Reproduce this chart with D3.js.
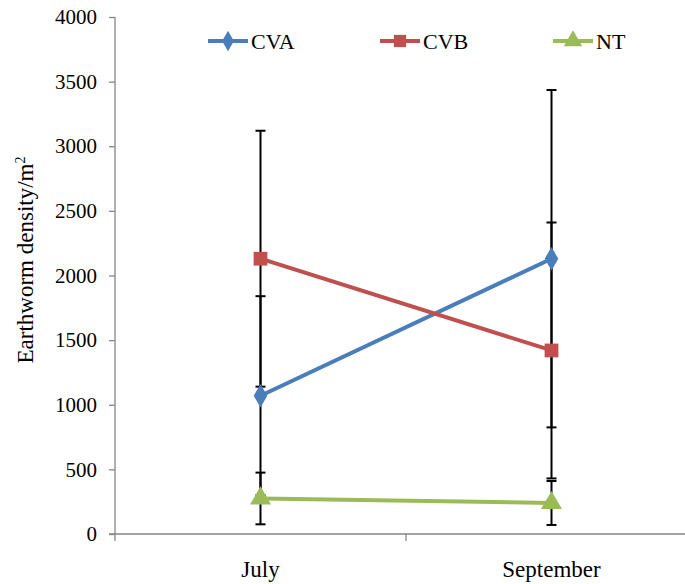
<!DOCTYPE html>
<html>
<head>
<meta charset="utf-8">
<script src="https://cdn.jsdelivr.net/npm/d3@7"></script>
<style>
body { margin: 0; background: #fff; }
</style>
</head>
<body>
<div id="chart"></div>
<script>
// data
var months = ["July", "September"];
var seriesNames = ["CVA", "CVB", "NT"];
var cvaValues = [1070, 2130];
var cvbValues = [2130, 1420];
var ntValues = [275, 240];
var cvaErrors = [770, 1305];
var cvbErrors = [990, 990];
var ntErrors = [200, 170];
var yTicks = [0, 500, 1000, 1500, 2000, 2500, 3000, 3500, 4000];

var width = 685;
var height = 584;
var font = "Liberation Serif";
var colors = {"CVA": "#4a7ebb", "CVB": "#c0504d", "NT": "#9bbb59"};
var axisColor = "#868686";

var series = [
	{name: seriesNames[0], values: cvaValues, errors: cvaErrors, symbol: d3.symbolDiamond},
	{name: seriesNames[1], values: cvbValues, errors: cvbErrors, symbol: d3.symbolSquare},
	{name: seriesNames[2], values: ntValues, errors: ntErrors, symbol: d3.symbolTriangle}
];

var svg = d3.select("#chart").append("svg")
.attr("width", width)
.attr("height", height)
.style("font-family", font);

// plot area runs a bit past the right edge, like the original crop
var x = d3.scaleBand()
.domain(months)
.range([115, 697]);

var y = d3.scaleLinear()
.domain([0, 4000])
.range([534, 17]);

function cx(i) { return x(months[i]) + x.bandwidth() / 2; }

// y axis
var yAxis = svg.append("g")
.attr("transform", "translate(115,0)")
.call(d3.axisLeft(y).tickValues(yTicks).tickSize(6).tickPadding(12).tickFormat(d3.format("d")))
.attr("font-family", font);
yAxis.select(".domain").attr("stroke", axisColor).attr("stroke-width", 1.3).attr("d", "M0,17V534");
yAxis.selectAll(".tick line").attr("stroke", axisColor).attr("stroke-width", 1.3);
yAxis.selectAll(".tick text")
.attr("fill", "#000")
.style("font-size", "21px")
.style("font-family", font);

// x axis with ticks between categories
var xAxis = svg.append("g")
.attr("transform", "translate(0,534)");
xAxis.append("line")
.attr("x1", 109).attr("x2", width)
.attr("stroke", axisColor).attr("stroke-width", 1.3);
xAxis.selectAll(".xtick")
.data([115].concat(months.map(function(m){ return x(m) + x.bandwidth(); })))
.enter().append("line")
.attr("class", "xtick")
.attr("x1", function(d){ return d; })
.attr("x2", function(d){ return d; })
.attr("y1", 0).attr("y2", 7)
.attr("stroke", axisColor).attr("stroke-width", 1.3);
xAxis.selectAll(".xlabel")
.data(months)
.enter().append("text")
.attr("class", "xlabel")
.attr("x", function(d){ return x(d) + x.bandwidth() / 2; })
.attr("y", 43)
.attr("text-anchor", "middle")
.style("font-family", font)
.style("font-size", "23px")
.text(function(d){ return d; });

// axis title
var title = svg.append("text")
.attr("transform", "translate(33,260) rotate(-90)")
.attr("text-anchor", "middle")
.style("font-family", font)
.style("font-size", "23px");
title.append("tspan").text("Earthworm density/m");
title.append("tspan").attr("dy", -8).style("font-size", "14px").text("2");

// error bars go under the lines and markers
series.forEach(function(s){
	var g = svg.append("g").attr("class", "err");
	s.values.forEach(function(v, i){
		var hi = y(v + s.errors[i]);
		var lo = y(Math.max(0, v - s.errors[i]));
		g.append("line")
		.attr("x1", cx(i)).attr("x2", cx(i))
		.attr("y1", hi).attr("y2", lo)
		.attr("stroke", "#000").attr("stroke-width", 2);
		[hi, lo].forEach(function(yy){
			g.append("line")
			.attr("x1", cx(i) - 5).attr("x2", cx(i) + 5)
			.attr("y1", yy).attr("y2", yy)
			.attr("stroke", "#000").attr("stroke-width", 2);
		});
	});
});

var line = d3.line()
.x(function(d, i){ return cx(i); })
.y(function(d){ return y(d); });

series.forEach(function(s){
	svg.append("path")
	.datum(s.values)
	.attr("d", line)
	.attr("fill", "none")
	.attr("stroke", colors[s.name])
	.attr("stroke-width", 4);

	svg.selectAll(".m-" + s.name)
	.data(s.values)
	.enter().append("path")
	.attr("class", "m-" + s.name)
	.attr("transform", function(d, i){ return "translate(" + cx(i) + "," + y(d) + ")"; })
	.attr("d", d3.symbol().type(s.symbol).size(s.name == "CVA" ? 160 : 190)())
	.attr("fill", colors[s.name]);
});

// legend
var legendX = [208, 380, 553];
var legend = svg.selectAll(".legendItem")
.data(series)
.enter().append("g")
.attr("class", "legendItem")
.attr("transform", function(d, i){ return "translate(" + legendX[i] + ",41)"; });

legend.append("line")
.attr("x1", 0).attr("x2", 40)
.attr("stroke", function(d){ return colors[d.name]; })
.attr("stroke-width", 4);
legend.append("path")
.attr("transform", "translate(20,0)")
.attr("d", function(d){ return d3.symbol().type(d.symbol).size(d.name == "CVA" ? 120 : 150)(); })
.attr("fill", function(d){ return colors[d.name]; });
legend.append("text")
.attr("x", 43)
.attr("y", 8)
.style("font-family", font)
.style("font-size", "22px")
.text(function(d){ return d.name; });
</script>
</body>
</html>
